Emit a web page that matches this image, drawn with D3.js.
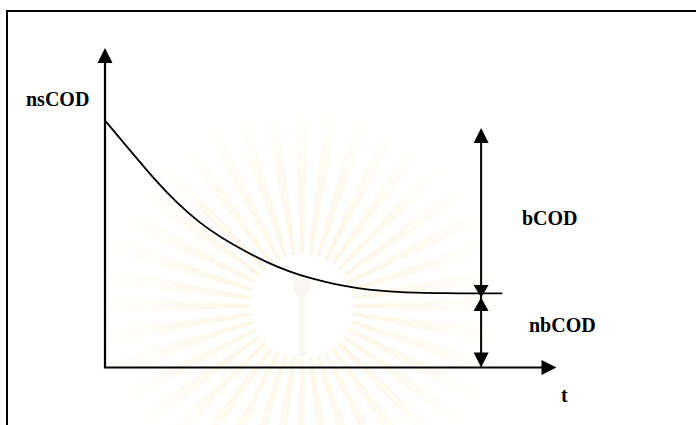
<!DOCTYPE html>
<html>
<head>
<meta charset="utf-8">
<script src="https://cdn.jsdelivr.net/npm/d3@7"></script>
<style>
  html, body { margin: 0; padding: 0; background: #fff; }
  svg { display: block; }
  text { font-family: "Liberation Serif", "Tinos", "Times New Roman", "DejaVu Serif", serif; font-weight: bold; fill: #000; }
</style>
</head>
<body>
<svg id="chart" width="696" height="425"></svg>
<script>
// COD decay over time: soluble COD falls until only the non-biodegradable part remains
const timeDomain = [0, 100];
const codDomain = [0, 10];
const curveTime = [0, 6, 11, 16, 21, 26, 31, 36, 41, 46, 51, 56, 61, 66, 75, 88];
const curveCOD  = [7.73, 6.72, 5.88, 5.14, 4.52, 4.04, 3.64, 3.28, 2.99, 2.77, 2.60, 2.48, 2.40, 2.35, 2.32, 2.32];
const markerTime = 83.3;   // where the bCOD / nbCOD split is measured
const bCODTop = 7.5;       // top of the bCOD span
const nbCODLevel = 2.32;   // residual (non-biodegradable) level
const labelNames = ["nsCOD", "bCOD", "nbCOD", "t"];

const svg = d3.select("#chart");
const x = d3.scaleLinear().domain(timeDomain).range([105, 556.5]);
const y = d3.scaleLinear().domain(codDomain).range([367.5, 48]);

// faint sunburst emblem in the background
const bg = svg.append("g").attr("transform", "translate(302,306)");
const rayGrad = svg.append("defs").append("radialGradient")
  .attr("id", "rayGrad").attr("gradientUnits", "userSpaceOnUse")
  .attr("cx", 0).attr("cy", 0).attr("r", 200);
rayGrad.append("stop").attr("offset", "0.25").attr("stop-color", "#f3e3a6").attr("stop-opacity", 0.28);
rayGrad.append("stop").attr("offset", "0.7").attr("stop-color", "#f6eac0").attr("stop-opacity", 0.2);
rayGrad.append("stop").attr("offset", "1").attr("stop-color", "#faf3da").attr("stop-opacity", 0);
const nRays = 40;
const ray = d3.arc().innerRadius(50).outerRadius(200);
d3.range(nRays).forEach(i => {
  const a = i * 2 * Math.PI / nRays;
  bg.append("path")
    .attr("d", ray({ startAngle: a - 0.035, endAngle: a + 0.035 }))
    .attr("fill", "url(#rayGrad)");
});
bg.append("circle").attr("r", 52).attr("fill", "#fff");
bg.append("ellipse").attr("cx", 0).attr("cy", -20).attr("rx", 9).attr("ry", 11).attr("fill", "#f8f6f1");
bg.append("rect").attr("x", -3).attr("y", -10).attr("width", 6).attr("height", 60).attr("fill", "#f9f7f2");

// outer frame
svg.append("rect")
  .attr("x", 7).attr("y", 11).attr("width", 700).attr("height", 430)
  .attr("fill", "none").attr("stroke", "#000").attr("stroke-width", 2);

function arrowHead(tx, ty, dir, len, half) {
  // dir: "up", "down", "right"
  let pts;
  if (dir === "up") pts = [[tx, ty], [tx - half, ty + len], [tx + half, ty + len]];
  else if (dir === "down") pts = [[tx, ty], [tx - half, ty - len], [tx + half, ty - len]];
  else pts = [[tx, ty], [tx - len, ty - half], [tx - len, ty + half]];
  svg.append("path").attr("d", "M" + pts.map(p => p.join(",")).join("L") + "Z").attr("fill", "#000");
}

// axes
const x0 = x(timeDomain[0]), y0 = y(codDomain[0]);
svg.append("line").attr("x1", x0).attr("y1", y0).attr("x2", x0).attr("y2", y(codDomain[1]) + 10)
  .attr("stroke", "#000").attr("stroke-width", 2.2);
arrowHead(x0, y(codDomain[1]), "up", 15, 7.5);
svg.append("line").attr("x1", x0 - 1.1).attr("y1", y0).attr("x2", x(timeDomain[1]) - 10).attr("y2", y0)
  .attr("stroke", "#000").attr("stroke-width", 2.2);
arrowHead(x(timeDomain[1]), y0, "right", 15, 7.5);

// decay curve
const curveData = curveTime.map((t, i) => [t, curveCOD[i]]);
svg.append("path")
  .datum(curveData)
  .attr("d", d3.line().x(d => x(d[0])).y(d => y(d[1])).curve(d3.curveBasis))
  .attr("fill", "none").attr("stroke", "#000").attr("stroke-width", 1.8);

// bCOD / nbCOD dimension arrows
const mx = x(markerTime);
const pinch = y(nbCODLevel) + 4;
svg.append("line").attr("x1", mx).attr("y1", y(bCODTop) + 10).attr("x2", mx).attr("y2", y0 - 8)
  .attr("stroke", "#000").attr("stroke-width", 2);
arrowHead(mx, y(bCODTop), "up", 15, 7.5);
arrowHead(mx, pinch, "down", 12.5, 7.5);
arrowHead(mx, pinch, "up", 13.5, 7.5);
arrowHead(mx, y0, "down", 15, 7.5);

// labels
const labelPos = [[26, 106], [522, 225], [529, 332], [561, 402]];
svg.selectAll("text.lbl").data(labelNames).enter().append("text")
  .attr("class", "lbl")
  .attr("x", (d, i) => labelPos[i][0]).attr("y", (d, i) => labelPos[i][1])
  .attr("font-family", "Liberation Serif, Times New Roman, serif")
  .attr("font-size", 20)
  .text(d => d);
</script>
</body>
</html>
